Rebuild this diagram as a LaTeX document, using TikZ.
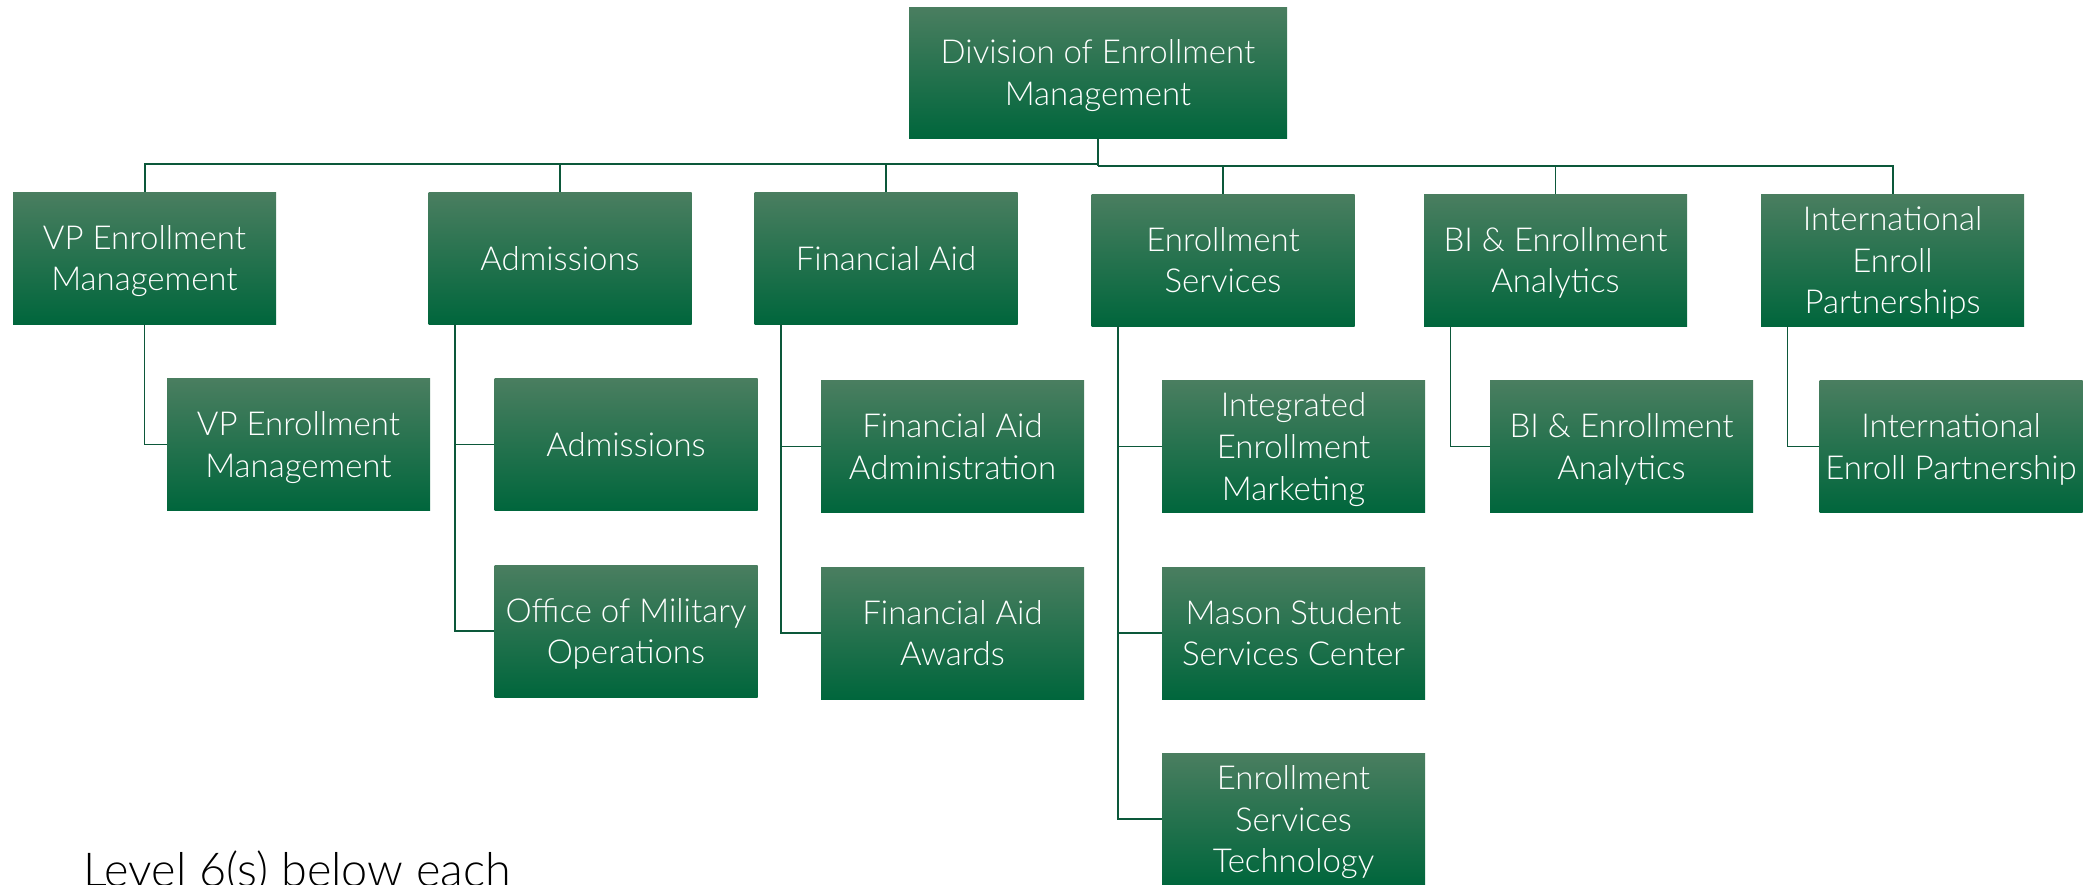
\documentclass[tikz,border=0pt]{standalone}
\usepackage{fontspec}
\IfFontExistsTF{Lato Light}{\setmainfont{Lato Light}}{\setmainfont{Lato}}
\usetikzlibrary{positioning}
\definecolor{gtop}{RGB}{74,126,96}
\definecolor{gmid}{RGB}{3,107,63}
\definecolor{gbot}{RGB}{0,102,60}
\definecolor{lnk}{RGB}{12,88,58}
\tikzset{
  box/.style={rectangle, inner sep=0pt, top color=gtop, middle color=gmid, bottom color=gbot,
    text=white, align=center, minimum width=131.5pt, minimum height=66pt, text depth=0pt,
    font=\fontsize{16.5}{20.8}\selectfont},
  bus/.style={draw=lnk, line width=1pt},
  link/.style={draw=lnk, line width=0.7pt}
}
\begin{document}
\begin{tikzpicture}[x=0.5pt,y=-0.5pt]
\useasboundingbox (0,0) rectangle (2087,884);
% level 1
\node[box, minimum width=189pt, minimum height=65.5pt] (top) at (1098,72.5) {Division of Enrollment\\Management};
% level 2
\node[box] (vp)   at (144.5,258) {VP Enrollment\\Management};
\node[box] (adm)  at (560,258)   {Admissions};
\node[box] (fa)   at (886,258)   {Financial Aid};
\node[box] (es)   at (1223,260)  {Enrollment\\Services};
\node[box] (bi)   at (1555.5,260){BI \& Enrollment\\Analytics};
\node[box] (intl) at (1892.5,260){International\\Enroll\\Partnerships};
% level 3
\node[box] (vpc)   at (298.5,444.5) {VP Enrollment\\Management};
\node[box] (admc)  at (626,444.5)   {Admissions};
\node[box] (mil)   at (626,631)     {Office of Military\\Operations};
\node[box] (faadm) at (952.5,446.5) {Financial Aid\\Administration};
\node[box] (faaw)  at (952.5,633)   {Financial Aid\\Awards};
\node[box] (iem)   at (1293.5,446.5){Integrated\\Enrollment\\Marketing};
\node[box] (mssc)  at (1293.5,633)  {Mason Student\\Services Center};
\node[box] (est)   at (1293.5,819)  {Enrollment\\Services\\Technology};
\node[box] (bic)   at (1621.5,446.5){BI \& Enrollment\\Analytics};
\node[box] (intlc) at (1951,446.5)  {International\\Enroll Partnership};
% bus
\coordinate (busL) at (1098,164);
\coordinate (busR) at (1098,166);
\draw[bus] (top.south) -- (busR);
\draw[bus] (busL) -| (vp.north);
\draw[link] (busL) -| (adm.north);
\draw[link] (busL) -| (fa.north);
\draw[bus] (busR) -| (intl.north);
\draw[link] (busR) -| (es.north);
\draw[link] (busR) -| (bi.north);
% children
\draw[link] (vp.south) |- (vpc.west);
\draw[link] ([xshift=13.5pt]adm.south west) |- (admc.west);
\draw[link] ([xshift=13.5pt]adm.south west) |- (mil.west);
\draw[link] ([xshift=13.5pt]fa.south west) |- (faadm.west);
\draw[link] ([xshift=13.5pt]fa.south west) |- (faaw.west);
\draw[link] ([xshift=13.5pt]es.south west) |- (iem.west);
\draw[link] ([xshift=13.5pt]es.south west) |- (mssc.west);
\draw[link] ([xshift=13.5pt]es.south west) |- (est.west);
\draw[link] ([xshift=13.5pt]bi.south west) |- (bic.west);
\draw[link] ([xshift=13.5pt]intl.south west) |- (intlc.west);
% caption
\node[anchor=base west, inner sep=0pt, text=black, font=\fontsize{23.4}{28}\selectfont] (lvl) at (83,886) {Level 6(s) below each};
\end{tikzpicture}
\end{document}
